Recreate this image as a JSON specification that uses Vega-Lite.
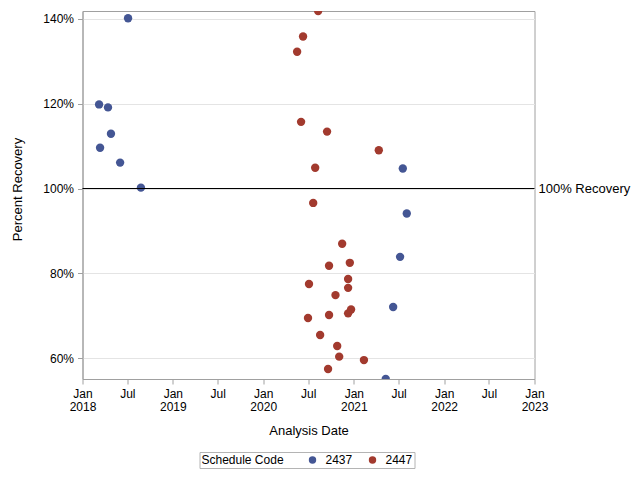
{
  "$schema": "https://vega.github.io/schema/vega-lite/v6.json",
  "width": 452,
  "height": 368,
  "autosize": {"type": "none"},
  "padding": {"left": 82.5, "top": 11, "right": 105.5, "bottom": 101},
  "background": "white",
  "config": {
    "font": "Liberation Sans",
    "view": {"stroke": "#a0a0a0", "strokeWidth": 1},
    "axis": {
      "domainColor": "#a0a0a0",
      "tickColor": "#a0a0a0",
      "labelColor": "#000000",
      "titleColor": "#000000",
      "labelFontSize": 12,
      "titleFontSize": 13,
      "titleFontWeight": "normal",
      "tickSize": 5,
      "labelPadding": 4,
      "gridColor": "#e4e4e4"
    }
  },
  "layer": [
    {
      "data": {
        "values": [
          {"date": "2018-07-04", "pct": 140.1, "code": "2437"},
          {"date": "2018-03-09", "pct": 119.8, "code": "2437"},
          {"date": "2018-04-14", "pct": 119.1, "code": "2437"},
          {"date": "2018-04-26", "pct": 112.9, "code": "2437"},
          {"date": "2018-03-13", "pct": 109.6, "code": "2437"},
          {"date": "2018-06-02", "pct": 106.1, "code": "2437"},
          {"date": "2018-08-25", "pct": 100.2, "code": "2437"},
          {"date": "2021-07-18", "pct": 104.7, "code": "2437"},
          {"date": "2021-08-03", "pct": 94.1, "code": "2437"},
          {"date": "2021-07-07", "pct": 83.9, "code": "2437"},
          {"date": "2021-06-09", "pct": 72.1, "code": "2437"},
          {"date": "2021-05-10", "pct": 55.14, "code": "2437"},
          {"date": "2020-08-10", "pct": 141.8, "code": "2447"},
          {"date": "2020-06-10", "pct": 135.8, "code": "2447"},
          {"date": "2020-05-17", "pct": 132.2, "code": "2447"},
          {"date": "2020-06-02", "pct": 115.7, "code": "2447"},
          {"date": "2020-09-15", "pct": 113.4, "code": "2447"},
          {"date": "2021-04-12", "pct": 109.0, "code": "2447"},
          {"date": "2020-07-29", "pct": 104.9, "code": "2447"},
          {"date": "2020-07-21", "pct": 96.6, "code": "2447"},
          {"date": "2020-11-15", "pct": 87.0, "code": "2447"},
          {"date": "2020-12-16", "pct": 82.5, "code": "2447"},
          {"date": "2020-09-23", "pct": 81.8, "code": "2447"},
          {"date": "2020-12-09", "pct": 78.7, "code": "2447"},
          {"date": "2020-07-04", "pct": 77.5, "code": "2447"},
          {"date": "2020-12-09", "pct": 76.6, "code": "2447"},
          {"date": "2020-10-19", "pct": 74.9, "code": "2447"},
          {"date": "2020-12-21", "pct": 71.5, "code": "2447"},
          {"date": "2020-12-09", "pct": 70.6, "code": "2447"},
          {"date": "2020-09-23", "pct": 70.2, "code": "2447"},
          {"date": "2020-06-30", "pct": 69.5, "code": "2447"},
          {"date": "2020-08-18", "pct": 65.5, "code": "2447"},
          {"date": "2020-10-26", "pct": 62.9, "code": "2447"},
          {"date": "2020-11-03", "pct": 60.4, "code": "2447"},
          {"date": "2021-02-11", "pct": 59.6, "code": "2447"},
          {"date": "2020-09-19", "pct": 57.5, "code": "2447"}
        ]
      },
      "mark": {"type": "point", "filled": true, "opacity": 1, "size": 70, "clip": true},
      "encoding": {
        "x": {
          "field": "date",
          "type": "temporal",
          "scale": {
            "type": "utc",
            "domain": [
              {"year": 2018, "month": 1, "date": 1, "utc": true},
              {"year": 2023, "month": 1, "date": 1, "utc": true}
            ]
          },
          "axis": {
            "title": "Analysis Date",
            "grid": false,
            "values": [
              {"year": 2018, "month": 1, "date": 1, "utc": true},
              {"year": 2018, "month": 7, "date": 1, "utc": true},
              {"year": 2019, "month": 1, "date": 1, "utc": true},
              {"year": 2019, "month": 7, "date": 1, "utc": true},
              {"year": 2020, "month": 1, "date": 1, "utc": true},
              {"year": 2020, "month": 7, "date": 1, "utc": true},
              {"year": 2021, "month": 1, "date": 1, "utc": true},
              {"year": 2021, "month": 7, "date": 1, "utc": true},
              {"year": 2022, "month": 1, "date": 1, "utc": true},
              {"year": 2022, "month": 7, "date": 1, "utc": true},
              {"year": 2023, "month": 1, "date": 1, "utc": true}
            ],
            "labelExpr": "utcFormat(datum.value, '%m') == '01' ? [utcFormat(datum.value, '%b'), utcFormat(datum.value, '%Y')] : utcFormat(datum.value, '%b')",
            "labelLineHeight": 13,
            "labelFlush": false,
            "labelOverlap": false,
            "titlePadding": 12
          }
        },
        "y": {
          "field": "pct",
          "type": "quantitative",
          "scale": {"domain": [55.14, 141.8], "nice": false, "zero": false},
          "axis": {
            "title": "Percent Recovery",
            "values": [60, 80, 100, 120, 140],
            "labelExpr": "datum.value + '%'",
            "grid": true,
            "titleX": -58,
            "titleY": 178
          }
        },
        "color": {
          "field": "code",
          "type": "nominal",
          "scale": {"domain": ["2437", "2447"], "range": ["#445694", "#A23A2E"]},
          "legend": {
            "orient": "none",
            "legendX": 117,
            "legendY": 441,
            "direction": "horizontal",
            "title": "Schedule Code",
            "titleOrient": "left",
            "titleFontSize": 12,
            "titleFontWeight": "normal",
            "titleColor": "#000000",
            "titlePadding": 22,
            "labelFontSize": 12,
            "labelColor": "#000000",
            "labelOffset": 7,
            "columnPadding": 14,
            "symbolType": "circle",
            "symbolSize": 55,
            "symbolStrokeWidth": 0,
            "strokeColor": "#b4b4b4",
            "fillColor": "white",
            "padding": 2
          }
        }
      }
    },
    {
      "data": {"values": [{}]},
      "mark": {"type": "rule", "color": "black", "strokeWidth": 1},
      "encoding": {"y": {"datum": 100}}
    },
    {
      "data": {"values": [{}]},
      "mark": {"type": "text", "align": "left", "baseline": "middle", "dx": 4, "fontSize": 13, "color": "black"},
      "encoding": {
        "x": {"datum": {"year": 2023, "month": 1, "date": 1, "utc": true}, "type": "temporal"},
        "y": {"datum": 100},
        "text": {"value": "100% Recovery"}
      }
    }
  ]
}
